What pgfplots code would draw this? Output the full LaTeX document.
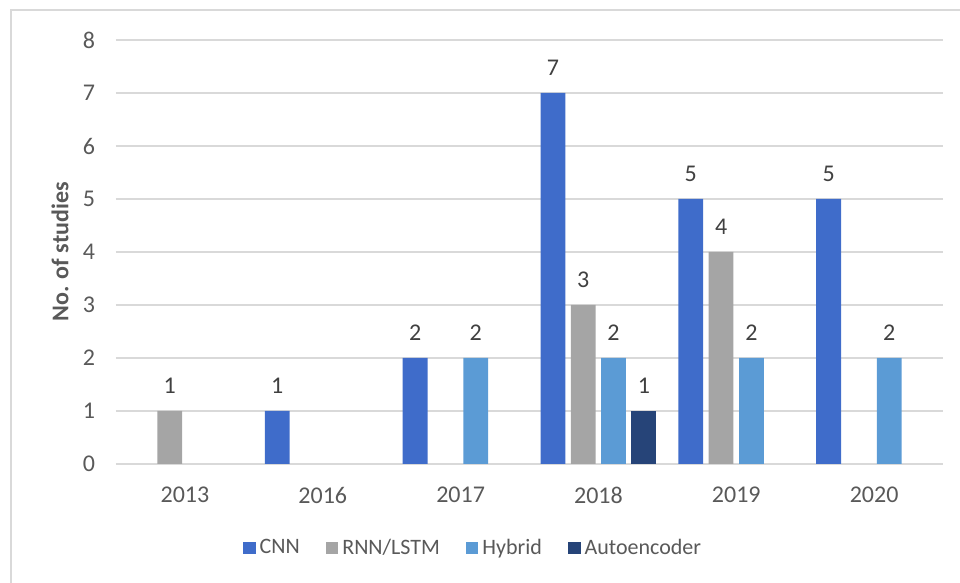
\documentclass[border=0pt]{standalone}
\usepackage{fontspec}
\setmainfont{Carlito}
\usepackage{pgfplots}
\pgfplotsset{compat=1.18}
\definecolor{cnn}{RGB}{63,108,202}
\definecolor{rnn}{RGB}{165,165,165}
\definecolor{hyb}{RGB}{91,155,213}
\definecolor{aenc}{RGB}{38,68,120}
\definecolor{txt}{RGB}{89,89,89}
\definecolor{gridc}{RGB}{217,217,217}

\begin{document}
\begin{tikzpicture}
\begin{axis}[
  scale only axis,
  width=413.5pt,
  height=212pt,
  ybar,
  ymin=0, ymax=8,
  xmin=-0.5, xmax=5.5,
  xtick={0,1,2,3,4,5},
  xticklabels={2013,2016,2017,2018,2019,2020},
  ytick={0,1,...,8},
  major tick length=0pt,
  axis line style={draw=none},
  ymajorgrids,
  grid style={color=gridc, line width=0.9pt},
  /pgf/number format/assume math mode=true,
  tick label style={font=\fontsize{12}{14}\selectfont, text=txt},
  yticklabel style={xshift=-7pt},
  xticklabel style={yshift=-8pt},
  ylabel={No. of studies},
  every axis y label/.style={at={(axis description cs:-0.0677,0.5)},rotate=90,anchor=center,
    font=\fontsize{12}{14}\selectfont\bfseries, text=txt},
  bar width=0.18,
  nodes near coords,
  every node near coord/.append style={font=\fontsize{12}{14}\selectfont, text=black!75, yshift=5pt},
  legend columns=4,
  legend style={at={(axis description cs:0.4329,-0.198)}, anchor=center, draw=none,
    font=\fontsize{11}{13}\selectfont, text=txt,
    /tikz/every even column/.append style={column sep=11pt}},
  legend image code/.code={\fill[#1,draw=none] (0pt,-3.1pt) rectangle (6.3pt,3.1pt);},
]
\addplot[fill=cnn, draw=none, bar shift=-0.33] coordinates {
  (1,1) (2,2) (3,7) (4,5) (5,5)
};
\addplot[fill=rnn, draw=none, bar shift=-0.11] coordinates {
  (0,1) (3,3) (4,4)
};
\addplot[fill=hyb, draw=none, bar shift=0.11] coordinates {
  (2,2) (3,2) (4,2) (5,2)
};
\addplot[fill=aenc, draw=none, bar shift=0.33] coordinates {
  (3,1)
};
\legend{CNN, RNN/LSTM, Hybrid, Autoencoder}
\end{axis}
\pgfresetboundingbox
\useasboundingbox (-58pt,-59.5pt) rectangle (422pt,232pt);
\draw[color=gridc, line width=1pt] (-52.5pt,-70pt) -- (-52.5pt,227pt) -- (430pt,227pt);
\end{tikzpicture}
\end{document}
